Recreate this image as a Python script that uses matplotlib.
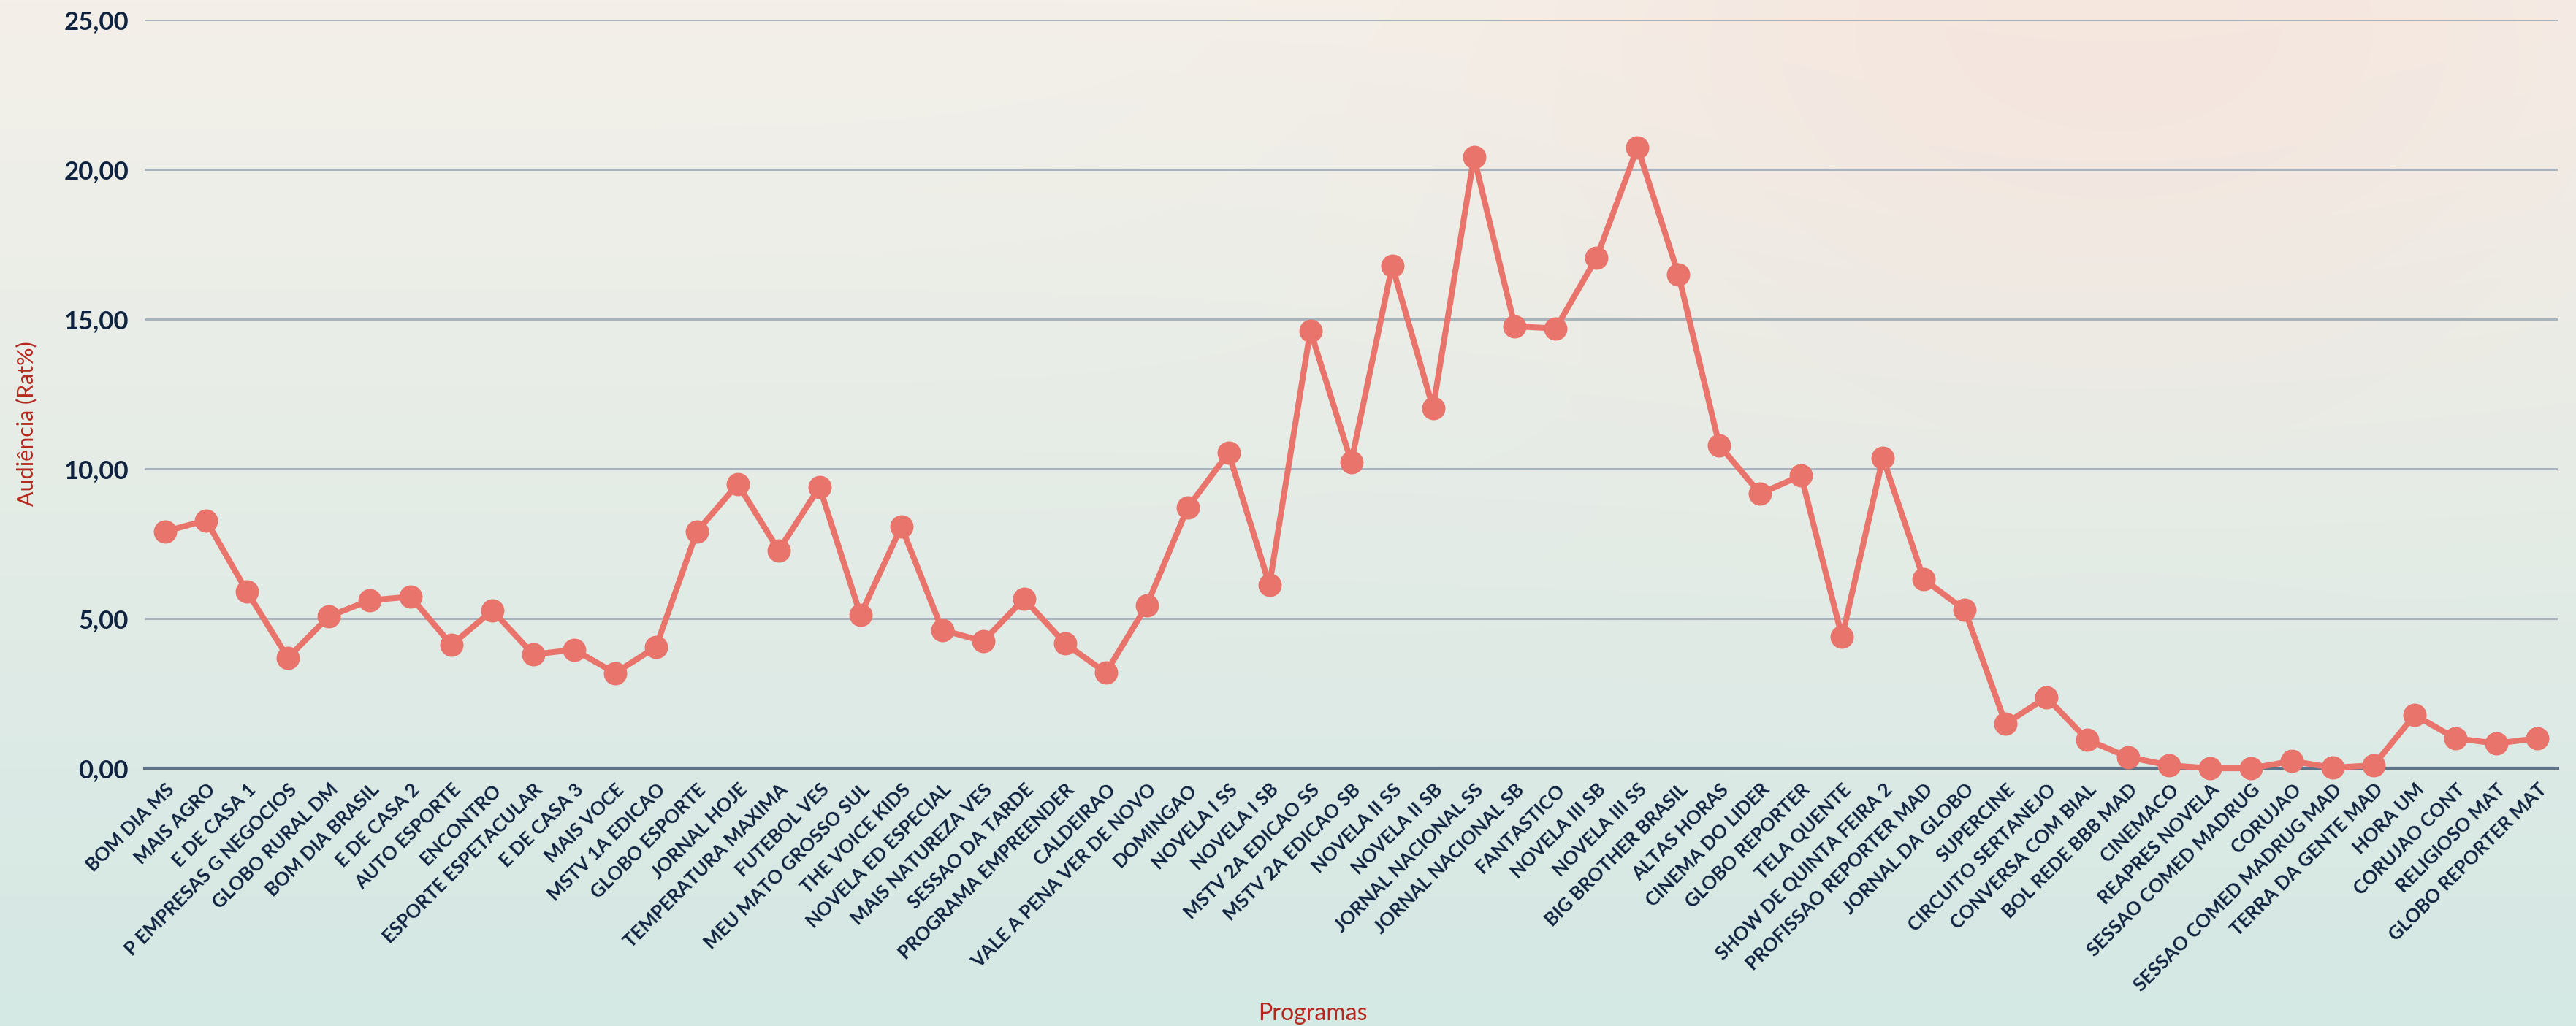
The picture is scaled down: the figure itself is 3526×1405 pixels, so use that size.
import numpy as np
import matplotlib.pyplot as plt
import matplotlib.ticker as mticker

programas = [
    'BOM DIA MS', 'MAIS AGRO', 'E DE CASA 1', 'P EMPRESAS G NEGOCIOS',
    'GLOBO RURAL DM', 'BOM DIA BRASIL', 'E DE CASA 2', 'AUTO ESPORTE',
    'ENCONTRO', 'ESPORTE ESPETACULAR', 'E DE CASA 3', 'MAIS VOCE',
    'MSTV 1A EDICAO', 'GLOBO ESPORTE', 'JORNAL HOJE', 'TEMPERATURA MAXIMA',
    'FUTEBOL VES', 'MEU MATO GROSSO SUL', 'THE VOICE KIDS', 'NOVELA ED ESPECIAL',
    'MAIS NATUREZA VES', 'SESSAO DA TARDE', 'PROGRAMA EMPREENDER', 'CALDEIRAO',
    'VALE A PENA VER DE NOVO', 'DOMINGAO', 'NOVELA I SS', 'NOVELA I SB',
    'MSTV 2A EDICAO SS', 'MSTV 2A EDICAO SB', 'NOVELA II SS', 'NOVELA II SB',
    'JORNAL NACIONAL SS', 'JORNAL NACIONAL SB', 'FANTASTICO', 'NOVELA III SB',
    'NOVELA III SS', 'BIG BROTHER BRASIL', 'ALTAS HORAS', 'CINEMA DO LIDER',
    'GLOBO REPORTER', 'TELA QUENTE', 'SHOW DE QUINTA FEIRA 2',
    'PROFISSAO REPORTER MAD', 'JORNAL DA GLOBO', 'SUPERCINE',
    'CIRCUITO SERTANEJO', 'CONVERSA COM BIAL', 'BOL REDE BBB MAD', 'CINEMACO',
    'REAPRES NOVELA', 'SESSAO COMED MADRUG', 'CORUJAO',
    'SESSAO COMED MADRUG MAD', 'TERRA DA GENTE MAD', 'HORA UM', 'CORUJAO CONT',
    'RELIGIOSO MAT', 'GLOBO REPORTER MAT',
]

audiencia = [
    7.91, 8.28, 5.90, 3.69, 5.07, 5.61, 5.73, 4.12, 5.27, 3.80,
    3.96, 3.18, 4.05, 7.91, 9.49, 7.28, 9.39, 5.12, 8.07, 4.62,
    4.24, 5.66, 4.17, 3.19, 5.44, 8.70, 10.54, 6.12, 14.62, 10.23,
    16.78, 12.03, 20.41, 14.76, 14.69, 17.05, 20.74, 16.49, 10.79, 9.17,
    9.78, 4.38, 10.37, 6.31, 5.29, 1.49, 2.37, 0.95, 0.37, 0.10,
    0.00, 0.00, 0.24, 0.02, 0.10, 1.78, 1.00, 0.83, 1.00,
]

y_ticks = [0, 5, 10, 15, 20, 25]

navy = '#0f2340'
red = '#b5281f'
salmon = '#e9746c'

plt.rcParams['font.family'] = ['Lato', 'DejaVu Sans']

fig = plt.figure(figsize=(35.26, 14.05), dpi=100)

# background: beige top, teal bottom, a pink glow at top right
bg = fig.add_axes([0, 0, 1, 1], zorder=-10)
h, w = 281, 705
yy, xx = np.mgrid[0:h, 0:w]
t = yy / (h - 1)
top = np.array([244, 240, 233]) / 255
bottom = np.array([212, 232, 228]) / 255
img = top[None, None, :] * (1 - t[..., None]) + bottom[None, None, :] * t[..., None]
glow = np.exp(-(((xx - 0.82 * w) / (0.22 * w)) ** 2 + ((yy - 0.0 * h) / (0.35 * h)) ** 2))
pink = np.array([246, 226, 218]) / 255
img = img * (1 - 0.7 * glow[..., None]) + pink[None, None, :] * 0.7 * glow[..., None]
bg.imshow(img, aspect='auto', extent=[0, 1, 0, 1], interpolation='bilinear')
bg.set_axis_off()

ax = fig.add_axes([0.0562, 0.2512, 0.9367, 0.7296])
ax.patch.set_alpha(0)

x = np.arange(len(programas))
ax.plot(x, audiencia, color=salmon, linewidth=5.8, marker='o', markersize=22,
        clip_on=False, zorder=3)

ax.set_xlim(-0.5, len(programas) - 0.5)
ax.set_ylim(0, 25)
ax.set_yticks(y_ticks)
ax.yaxis.set_major_formatter(mticker.FuncFormatter(lambda v, p: f'{v:.2f}'.replace('.', ',')))
ax.grid(axis='y', color='#a9b3bd', linewidth=2.2, zorder=0)
ax.set_axisbelow(True)

for s in ['top', 'right', 'left']:
    ax.spines[s].set_visible(False)
ax.spines['bottom'].set_color('#5f7388')
ax.spines['bottom'].set_linewidth(3)

ax.set_xticks(x)
ax.set_xticklabels(programas, rotation=45, ha='right', rotation_mode='anchor',
                   fontsize=18.5, fontweight='bold', color=navy)
ax.tick_params(axis='x', length=0, pad=12)
ax.tick_params(axis='y', length=0, pad=16, labelsize=25, labelcolor=navy)
for lab in ax.get_yticklabels():
    lab.set_fontweight('bold')

ax.set_ylabel('Audiência (Rat%)', fontsize=22, color=red)
ax.yaxis.set_label_coords(-0.0448, 0.46)
ax.set_xlabel('Programas', fontsize=23, color=red)
ax.xaxis.set_label_coords(0.484, -0.313)

fig.savefig('out.png', dpi=100)
